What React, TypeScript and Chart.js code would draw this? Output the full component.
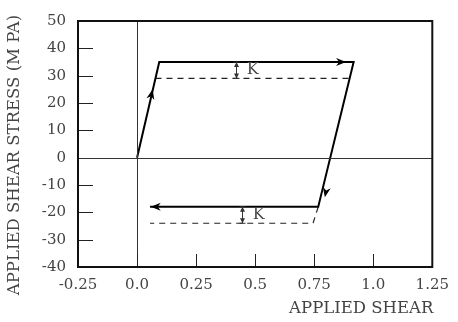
import React, { useEffect, useRef } from "react";
import { Chart, registerables } from "chart.js";

Chart.register(...registerables);

const loopX = [0, 0.094, 0.917, 0.767, 0.055];
const loopY = [0, 35, 35, -18, -18];
const upperDashX = [0.078, 0.9];
const upperDashY = [29, 29];
const lowerDashX = [0.767, 0.745, 0.055];
const lowerDashY = [-18, -24, -24];
const xTickValues = [-0.25, 0, 0.25, 0.5, 0.75, 1.0, 1.25];
const xTickLabels = ["-0.25", "0.0", "0.25", "0.5", "0.75", "1.0", "1.25"];
// arrows: tail x, tail y, tip x, tip y
const arrowTailX = [0.05, 0.8, 0.81, 0.12];
const arrowTailY = [19, 35, -8, -18];
const arrowTipX = [0.066, 0.885, 0.795, 0.058];
const arrowTipY = [25, 35, -14.5, -18];
// K markers
const kX = [0.42, 0.445];
const kTop = [35, -18];
const kBottom = [29, -24];
const kLabelX = [0.49, 0.515];
const kLabelY = [32, -21];

const FONT = "'DejaVu Serif', serif";
const TEXT = "#444";

const decor = {
  id: "decor",
  afterDatasetsDraw(chart: any) {
    const ctx = chart.ctx;
    const xs = chart.scales.x;
    const ys = chart.scales.y;
    const a = chart.chartArea;
    ctx.save();
    ctx.strokeStyle = "#333";
    ctx.lineWidth = 1;
    ctx.beginPath();
    const x0 = Math.round(xs.getPixelForValue(0)) + 0.5;
    const y0 = Math.round(ys.getPixelForValue(0)) + 0.5;
    ctx.moveTo(x0, a.top);
    ctx.lineTo(x0, a.bottom);
    ctx.moveTo(a.left, y0);
    ctx.lineTo(a.right, y0);
    ctx.stroke();
    ctx.lineWidth = 1;
    ctx.strokeStyle = "#222";
    ctx.beginPath();
    for (let v = -30; v <= 40; v += 10) {
      if (v === 0) continue;
      const y = Math.round(ys.getPixelForValue(v)) + 0.5;
      ctx.moveTo(a.left, y);
      ctx.lineTo(a.left + 15, y);
    }
    for (const v of xTickValues.slice(1, -1)) {
      const x = Math.round(xs.getPixelForValue(v)) + 0.5;
      ctx.moveTo(x, a.bottom);
      ctx.lineTo(x, a.bottom - 13);
    }
    ctx.stroke();
    ctx.lineWidth = 2;
    ctx.strokeStyle = "#111";
    ctx.strokeRect(a.left, a.top, a.right - a.left, a.bottom - a.top);
    ctx.fillStyle = "#000";
    for (let i = 0; i < arrowTipX.length; i++) {
      const tx = xs.getPixelForValue(arrowTipX[i]);
      const ty = ys.getPixelForValue(arrowTipY[i]);
      const sx = xs.getPixelForValue(arrowTailX[i]);
      const sy = ys.getPixelForValue(arrowTailY[i]);
      const ang = Math.atan2(ty - sy, tx - sx);
      const L = 10, W = 4;
      ctx.beginPath();
      ctx.moveTo(tx, ty);
      ctx.lineTo(tx - L * Math.cos(ang) + W * Math.sin(ang), ty - L * Math.sin(ang) - W * Math.cos(ang));
      ctx.lineTo(tx - L * 0.7 * Math.cos(ang), ty - L * 0.7 * Math.sin(ang));
      ctx.lineTo(tx - L * Math.cos(ang) - W * Math.sin(ang), ty - L * Math.sin(ang) + W * Math.cos(ang));
      ctx.closePath();
      ctx.fill();
    }
    ctx.strokeStyle = "#333";
    ctx.lineWidth = 1;
    for (let i = 0; i < kX.length; i++) {
      const x = Math.round(xs.getPixelForValue(kX[i])) + 0.5;
      const yt = ys.getPixelForValue(kTop[i]);
      const yb = ys.getPixelForValue(kBottom[i]);
      ctx.fillStyle = "#333";
      ctx.beginPath();
      ctx.moveTo(x, yt);
      ctx.lineTo(x, yb);
      ctx.moveTo(x - 3, yb);
      ctx.lineTo(x + 3, yb);
      ctx.moveTo(x - 3, yt);
      ctx.lineTo(x + 3, yt);
      ctx.stroke();
      ctx.beginPath();
      ctx.moveTo(x, yt);
      ctx.lineTo(x - 2.5, yt + 5);
      ctx.lineTo(x + 2.5, yt + 5);
      ctx.closePath();
      ctx.moveTo(x, yb);
      ctx.lineTo(x - 2.5, yb - 5);
      ctx.lineTo(x + 2.5, yb - 5);
      ctx.closePath();
      ctx.fill();
      ctx.font = "16px " + FONT;
      ctx.fillStyle = TEXT;
      ctx.textAlign = "center";
      ctx.textBaseline = "middle";
      ctx.fillText("K", xs.getPixelForValue(kLabelX[i]), ys.getPixelForValue(kLabelY[i]));
    }
    ctx.fillStyle = TEXT;
    ctx.font = "16.5px " + FONT;
    ctx.textAlign = "right";
    ctx.textBaseline = "middle";
    ctx.fillText("APPLIED SHEAR", a.right + 1, 309);
    ctx.save();
    ctx.translate(15, 155);
    ctx.rotate(-Math.PI / 2);
    ctx.textAlign = "center";
    ctx.fillText("APPLIED SHEAR STRESS (M PA)", 0, 0);
    ctx.restore();
    ctx.restore();
  },
};

export default function App() {
  const ref = useRef<HTMLCanvasElement>(null);
  useEffect(() => {
    const toPts = (xa: number[], ya: number[]) => xa.map((x, i) => ({ x, y: ya[i] }));
    const chart = new Chart(ref.current!, {
      type: "scatter",
      data: {
        datasets: [
          {
            data: toPts(loopX, loopY),
            showLine: true,
            borderColor: "#000",
            borderWidth: 2,
            pointRadius: 0,
            tension: 0,
          },
          {
            data: toPts(upperDashX, upperDashY),
            showLine: true,
            borderColor: "#222",
            borderWidth: 1.2,
            borderDash: [6, 5],
            pointRadius: 0,
          },
          {
            data: toPts(lowerDashX, lowerDashY),
            showLine: true,
            borderColor: "#222",
            borderWidth: 1.2,
            borderDash: [6, 5],
            pointRadius: 0,
          },
        ],
      },
      options: {
        animation: false,
        responsive: false,
        layout: { padding: { left: 0, top: 14, right: 21, bottom: 0 } },
        plugins: { legend: { display: false }, tooltip: { enabled: false } },
        scales: {
          x: {
            type: "linear",
            min: -0.25,
            max: 1.25,
            afterBuildTicks: (s: any) => {
              s.ticks = xTickValues.map((v) => ({ value: v }));
            },
            afterFit: (s: any) => {
              s.height = 55;
            },
            grid: { display: false, drawTicks: false },
            border: { display: false },
            ticks: {
              padding: 9,
              color: TEXT,
              font: { family: FONT, size: 15 },
              maxRotation: 0,
              autoSkip: false,
              callback: (v: any) => {
                const i = xTickValues.findIndex((t) => Math.abs(t - v) < 1e-9);
                return i >= 0 ? xTickLabels[i] : "";
              },
            },
          },
          y: {
            type: "linear",
            min: -40,
            max: 50,
            afterFit: (s: any) => {
              s.width = 78;
            },
            grid: { display: false, drawTicks: false },
            border: { display: false },
            ticks: {
              stepSize: 10,
              padding: 12,
              color: TEXT,
              font: { family: FONT, size: 15 },
            },
          },
        },
      },
      plugins: [decor],
    });
    return () => chart.destroy();
  }, []);
  return (
    <div style={{ position: "fixed", left: 0, top: 0, width: 458, height: 322, background: "#fff" }}>
      <canvas ref={ref} width={458} height={322} />
    </div>
  );
}
